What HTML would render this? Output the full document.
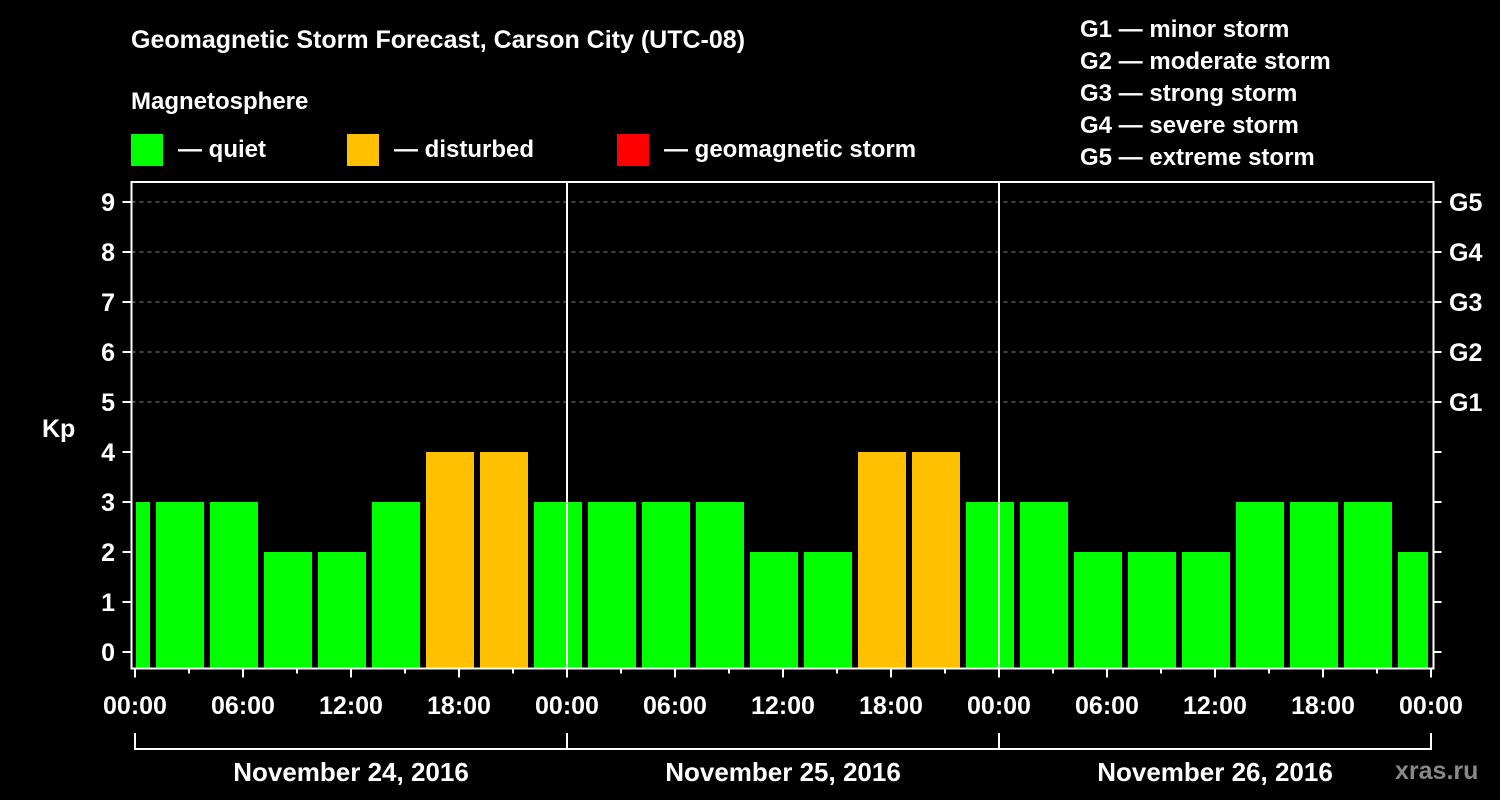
<!DOCTYPE html>
<html><head><meta charset="utf-8"><style>
html,body{margin:0;padding:0;background:#000;}
svg{display:block;font-family:"Liberation Sans",Arial,sans-serif;font-weight:bold;}
</style></head><body>
<svg id="chart" width="1500" height="800" viewBox="0 0 1500 800" xmlns="http://www.w3.org/2000/svg">
<rect width="1500" height="800" fill="#000"/>
<text x="131" y="48" fill="#fff" font-size="25">Geomagnetic Storm Forecast, Carson City (UTC-08)</text>
<text x="131" y="109" fill="#fff" font-size="24">Magnetosphere</text>
<g><rect x="131" y="134" width="32" height="32" fill="#00ff00"/><text x="178" y="157" fill="#fff" font-size="24">— quiet</text></g>
<g><rect x="347" y="134" width="32" height="32" fill="#ffc000"/><text x="394" y="157" fill="#fff" font-size="24">— disturbed</text></g>
<g><rect x="617" y="134" width="32" height="32" fill="#ff0000"/><text x="664" y="157" fill="#fff" font-size="24">— geomagnetic storm</text></g>
<g fill="#fff" font-size="24">
<text x="1080" y="37">G1 — minor storm</text>
<text x="1080" y="69">G2 — moderate storm</text>
<text x="1080" y="101">G3 — strong storm</text>
<text x="1080" y="133">G4 — severe storm</text>
<text x="1080" y="165">G5 — extreme storm</text>
</g>
<text x="42" y="437" fill="#fff" font-size="25">Kp</text>
<g id="grid"></g><g id="bars"></g><g id="axes"></g>
<text x="1395" y="779" fill="#888" font-size="25">xras.ru</text>
</svg>
<script>
const values=[3,3,3,2,2,3,4,4,3,3,3,3,2,2,4,4,3,3,2,2,2,3,3,3,2];
const firstBarHour=-2;
const yTicks=[0,1,2,3,4,5,6,7,8,9];
const gLabels=["G1","G2","G3","G4","G5"];
const xTickLabels=["00:00","06:00","12:00","18:00","00:00","06:00","12:00","18:00","00:00","06:00","12:00","18:00","00:00"];
const dayLabels=["November 24, 2016","November 25, 2016","November 26, 2016"];
const NS="http://www.w3.org/2000/svg";
const L=131.5,R=1433.5,T=182,B=668.5,X0=135,HPX=18;
const x=h=>X0+h*HPX, y=v=>652-v*50;
function mk(tag,attrs,parent,txt){const e=document.createElementNS(NS,tag);for(const k in attrs)e.setAttribute(k,attrs[k]);if(txt!==undefined)e.textContent=txt;parent.appendChild(e);return e;}
const grid=document.getElementById('grid'),bars=document.getElementById('bars'),axes=document.getElementById('axes');
for(let i=5;i<=9;i++){const l=mk('line',{x1:L,x2:R,y1:y(i),y2:y(i),stroke:'#888','stroke-width':1,'stroke-dasharray':'4,4'},grid);

}
values.forEach((v,k)=>{let a=x(firstBarHour+3*k)+3,b=x(firstBarHour+3*k+3)-3;a=Math.max(a,136);b=Math.min(b,1428);
const r=mk('rect',{x:a,y:y(v),width:b-a,height:B-y(v),fill:v>=5?'#ff0000':(v>=4?'#ffc000':'#00ff00')},bars);

});
for(let d=1;d<3;d++){const l=mk('line',{x1:x(24*d),x2:x(24*d),y1:T,y2:B,stroke:'#fff','stroke-width':2},axes);

}
const fr=mk('rect',{x:L,y:T,width:R-L,height:B-T,fill:'none',stroke:'#fff','stroke-width':2},axes);


yTicks.forEach(v=>{mk('line',{x1:L-9,x2:L,y1:y(v),y2:y(v),stroke:'#fff','stroke-width':2},axes);mk('line',{x1:R,x2:R+8,y1:y(v),y2:y(v),stroke:'#fff','stroke-width':2},axes);
const t=mk('text',{x:115,y:y(v)+9,fill:'#fff','font-size':25,'text-anchor':'end'},axes,String(v));

});
gLabels.forEach((g,i)=>{const t=mk('text',{x:1449,y:y(5+i)+9,fill:'#fff','font-size':25},axes,g);

});
for(let h=0;h<=72;h+=3){const major=h%6===0;mk('line',{x1:x(h),x2:x(h),y1:B,y2:B+(major?9:5),stroke:'#fff','stroke-width':2},axes);}
xTickLabels.forEach((s,i)=>{const t=mk('text',{x:x(6*i),y:714,fill:'#fff','font-size':25,'text-anchor':'middle'},axes,s);

});
mk('line',{x1:x(0),x2:x(72),y1:749,y2:749,stroke:'#fff','stroke-width':2},axes);
for(let d=0;d<=3;d++)mk('line',{x1:x(24*d),x2:x(24*d),y1:733,y2:750,stroke:'#fff','stroke-width':2},axes);
dayLabels.forEach((s,i)=>{const t=mk('text',{x:x(24*i+12),y:781,fill:'#fff','font-size':26,'text-anchor':'middle'},axes,s);

});
</script>
</body></html>
